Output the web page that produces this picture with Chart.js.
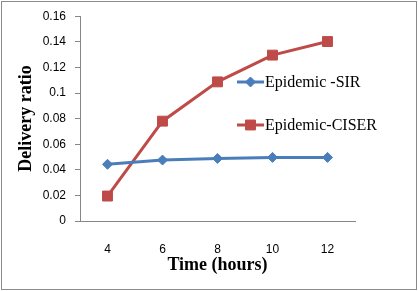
<!DOCTYPE html>
<html>
<head>
<meta charset="utf-8">
<script src="https://cdn.jsdelivr.net/npm/chart.js@4/dist/chart.umd.min.js"></script>
<style>
  html, body { margin: 0; padding: 0; background: #fff; }
  #wrap { width: 418px; height: 291px; position: relative; }
</style>
</head>
<body>
<div id="wrap"><canvas id="chart" width="418" height="291"></canvas></div>
<script>
var hours = ['4', '6', '8', '10', '12'];
var sirValues = [0.0443, 0.0476, 0.0489, 0.0497, 0.0497];
var ciserValues = [0.0195, 0.078, 0.1087, 0.1296, 0.1402];
var seriesNames = ['Epidemic -SIR', 'Epidemic-CISER'];

var blue = '#4A7EBB';
var red = '#BE4B48';
var grey = '#868686';

// legend sits inside the plot, so draw it by hand
var insideLegend = {
    id: 'insideLegend',
    afterDatasetsDraw: function(chart){
        var ctx = chart.ctx;
        var rows = [82, 125];
        ctx.save();
        chart.data.datasets.forEach(function(ds, i){
            var y = rows[i];
            ctx.strokeStyle = ds.borderColor;
            ctx.lineWidth = 3;
            ctx.beginPath();
            ctx.moveTo(237, y);
            ctx.lineTo(264, y);
            ctx.stroke();
            ctx.fillStyle = ds.backgroundColor;
            ctx.strokeStyle = ds.borderColor;
            ctx.lineWidth = 1;
            Chart.helpers.drawPoint(ctx, {pointStyle: ds.pointStyle, radius: ds.pointRadius, borderWidth: 1}, 250.5, y);
            ctx.fillStyle = '#000';
            ctx.font = '16px "Liberation Serif"';
            ctx.textBaseline = 'middle';
            ctx.textAlign = 'left';
            ctx.fillText(ds.label, 265, y + 1);
        });
        ctx.restore();
    },
    afterDraw: function(chart){
        var ctx = chart.ctx;
        ctx.save();
        ctx.strokeStyle = '#8a8a8a';
        ctx.lineWidth = 1;
        ctx.strokeRect(1.5, 1.5, 415, 288);
        ctx.restore();
    }
};

new Chart(document.getElementById('chart'), {
    type: 'line',
    data: {
        labels: hours,
        datasets: [{
            label: seriesNames[0],
            data: sirValues,
            borderColor: blue,
            backgroundColor: blue,
            borderWidth: 3,
            pointStyle: 'rectRot',
            pointRadius: 5,
            pointBorderWidth: 1,
            tension: 0
        }, {
            label: seriesNames[1],
            data: ciserValues,
            borderColor: red,
            backgroundColor: red,
            borderWidth: 3,
            pointStyle: 'rect',
            pointRadius: 7,
            pointBorderWidth: 1,
            tension: 0
        }]
    },
    options: {
        responsive: false,
        animation: false,
        devicePixelRatio: 1,
        layout: { padding: { left: 0, top: 16, right: 63, bottom: 0 } },
        plugins: {
            legend: { display: false },
            tooltip: { enabled: false }
        },
        scales: {
            x: {
                offset: true,
                grid: { display: false },
                border: { display: true, color: grey, width: 1 },
                ticks: { color: '#000', padding: 13, font: { family: '"Liberation Sans"', size: 12 } },
                title: {
                    display: true,
                    text: 'Time (hours)',
                    color: '#000',
                    padding: { top: 0, bottom: 15 },
                    font: { family: '"Liberation Serif"', size: 18, weight: 'bold' }
                },
                afterFit: function(scale){ scale.height = 70; }
            },
            y: {
                min: 0,
                max: 0.16,
                ticks: {
                    stepSize: 0.02,
                    color: '#000',
                    padding: 9,
                    font: { family: '"Liberation Sans"', size: 12 },
                    callback: function(v){ return parseFloat(v.toFixed(2)).toString(); }
                },
                grid: { display: true, drawOnChartArea: false, drawTicks: true, tickLength: 5, color: grey },
                border: { display: true, color: grey, width: 1 },
                title: {
                    display: true,
                    text: 'Delivery ratio',
                    color: '#000',
                    padding: { top: 16, bottom: 0 },
                    font: { family: '"Liberation Serif"', size: 18, weight: 'bold' }
                },
                afterFit: function(scale){ scale.width = 80; }
            }
        }
    },
    plugins: [insideLegend]
});
</script>
</body>
</html>
